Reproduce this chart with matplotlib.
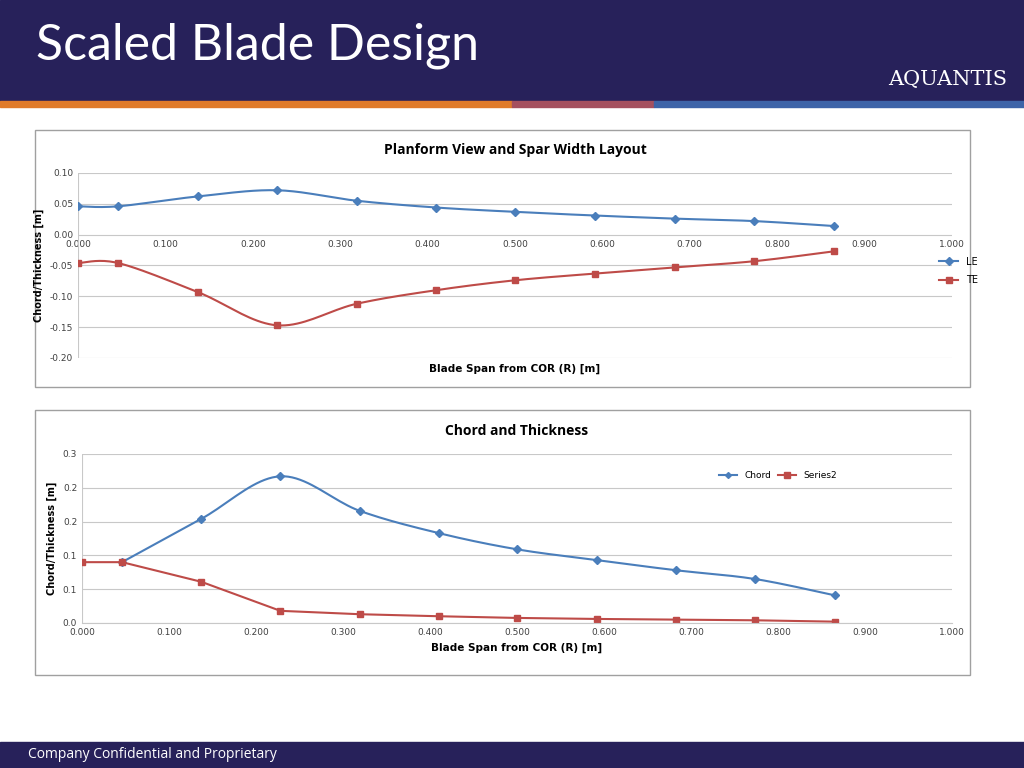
import numpy as np
import matplotlib
matplotlib.use("Agg")
import matplotlib.pyplot as plt
from matplotlib.patches import Rectangle

span = [0.000, 0.046, 0.137, 0.228, 0.319, 0.410, 0.500, 0.592, 0.683, 0.774, 0.865]
le = [0.046, 0.046, 0.062, 0.072, 0.055, 0.044, 0.037, 0.031, 0.026, 0.022, 0.014]
te = [-0.046, -0.046, -0.093, -0.147, -0.112, -0.090, -0.074, -0.063, -0.053, -0.043, -0.027]
chord_span = span[1:]
chord = [0.090, 0.154, 0.217, 0.166, 0.133, 0.109, 0.093, 0.078, 0.065, 0.041]
series2 = [0.090, 0.090, 0.061, 0.018, 0.013, 0.010, 0.0075, 0.006, 0.005, 0.004, 0.002]
x_labels = ["0.000", "0.100", "0.200", "0.300", "0.400", "0.500", "0.600", "0.700", "0.800", "0.900", "1.000"]
top_y_labels = ["-0.20", "-0.15", "-0.10", "-0.05", "0.00", "0.05", "0.10"]
bot_y_labels = ["0.0", "0.1", "0.1", "0.2", "0.2", "0.3"]

BLUE = "#4a7ebb"
RED = "#be4b48"
NAVY = "#27215a"

def smooth(x, y, n=20):
    x = np.asarray(x, float); y = np.asarray(y, float)
    P = np.column_stack([x, y])
    P = np.vstack([P[0], P, P[-1]])
    out = []
    for i in range(1, len(P) - 2):
        p0, p1, p2, p3 = P[i-1], P[i], P[i+1], P[i+2]
        for t in np.linspace(0, 1, n, endpoint=False):
            t2, t3 = t*t, t*t*t
            pt = 0.5*((2*p1) + (-p0+p2)*t + (2*p0-5*p1+4*p2-p3)*t2 + (-p0+3*p1-3*p2+p3)*t3)
            out.append(pt)
    out.append(P[-2])
    out = np.array(out)
    return out[:, 0], out[:, 1]

fig = plt.figure(figsize=(10.24, 7.68), dpi=100)
W, H = 1024, 768
def fr(x0, y0, x1, y1):
    return [x0/W, 1-y1/H, (x1-x0)/W, (y1-y0)/H]

bg = fig.add_axes([0, 0, 1, 1]); bg.set_xlim(0, W); bg.set_ylim(H, 0); bg.axis("off")
bg.add_patch(Rectangle((0, 0), W, 101, color=NAVY))
bg.add_patch(Rectangle((0, 101), 512, 6, color="#e07b2a"))
bg.add_patch(Rectangle((512, 101), 142, 6, color="#a5505f"))
bg.add_patch(Rectangle((654, 101), 370, 6, color="#3d64a8"))
bg.add_patch(Rectangle((0, 742), W, 26, color=NAVY))
bg.text(36, 46, "Scaled Blade Design", color="white", fontsize=36, va="center", family="Lato")
bg.text(948, 80, "AQUANTIS", color="white", fontsize=15, ha="center", va="center", family="DejaVu Serif")
bg.text(28, 755, "Company Confidential and Proprietary", color="white", fontsize=10, va="center", family="Open Sans")
for (x0, y0, x1, y1) in [(35, 130, 970, 387), (35, 410, 970, 675)]:
    bg.add_patch(Rectangle((x0, y0), x1-x0, y1-y0, fill=False, ec="#a0a0a0", lw=1))

tick_kw = dict(labelsize=6.5, colors="#404040", length=0)

# Top chart
ax = fig.add_axes(fr(78, 173, 952, 358))
ax.set_xlim(0, 1); ax.set_ylim(-0.20, 0.10)
ax.set_yticks(np.linspace(-0.20, 0.10, 7)); ax.set_yticklabels(top_y_labels)
ax.set_xticks(np.linspace(0, 1, 11)); ax.set_xticklabels(x_labels)
ax.spines["bottom"].set_position(("data", 0))
for s in ax.spines.values(): s.set_visible(False)
ax.grid(axis="y", color="#c8c8c8", lw=0.8); ax.set_axisbelow(True)
ax.tick_params(**tick_kw)
ax.axvline(0, color="#c8c8c8", lw=0.8)
sx, sy = smooth(span, le); ax.plot(sx, sy, color=BLUE, lw=1.5)
ax.plot(span, le, "D", color=BLUE, ms=4, ls="none")
sx, sy = smooth(span, te); ax.plot(sx, sy, color=RED, lw=1.5)
ax.plot(span, te, "s", color=RED, ms=5, ls="none")
h1 = ax.plot([], [], color=BLUE, marker="D", ms=4, label="LE")[0]
h2 = ax.plot([], [], color=RED, marker="s", ms=5, label="TE")[0]
ax.legend(handles=[h1, h2], loc="center left", bbox_to_anchor=(0.975, 0.47), frameon=False, fontsize=7, handlelength=2, labelspacing=0.9)
ax.set_title("Planform View and Spar Width Layout", fontsize=10, fontweight="bold", pad=14, family="Open Sans")
ax.text(0.5, -0.06, "Blade Span from COR (R) [m]", transform=ax.transAxes, ha="center", va="center", fontsize=7.5, fontweight="bold")
ax.set_ylabel("Chord/Thickness [m]", fontsize=7, fontweight="bold")

# Bottom chart
ax = fig.add_axes(fr(82, 454, 952, 623))
ax.set_xlim(0, 1); ax.set_ylim(0, 0.25)
ax.set_yticks(np.linspace(0, 0.25, 6)); ax.set_yticklabels(bot_y_labels)
ax.set_xticks(np.linspace(0, 1, 11)); ax.set_xticklabels(x_labels)
for s in ax.spines.values(): s.set_visible(False)
ax.spines["bottom"].set_visible(True); ax.spines["bottom"].set_color("#c8c8c8")
ax.grid(axis="y", color="#c8c8c8", lw=0.8); ax.set_axisbelow(True)
ax.tick_params(**tick_kw)
ax.axvline(0, color="#c8c8c8", lw=0.8)
sx, sy = smooth(chord_span, chord); ax.plot(sx, sy, color=BLUE, lw=1.5)
ax.plot(chord_span, chord, "D", color=BLUE, ms=4)
ax.plot(span, series2, color=RED, lw=1.5)
ax.plot(span, series2, "s", color=RED, ms=5)
h1 = ax.plot([], [], color=BLUE, marker="D", ms=3, label="Chord")[0]
h2 = ax.plot([], [], color=RED, marker="s", ms=4, label="Series2")[0]
ax.legend(handles=[h1, h2], loc="center", bbox_to_anchor=(0.8, 0.87), ncol=2, frameon=False, fontsize=6.5, handlelength=2, columnspacing=0.8)
ax.set_title("Chord and Thickness", fontsize=10, fontweight="bold", pad=14, family="Open Sans")
ax.set_xlabel("Blade Span from COR (R) [m]", fontsize=7.5, fontweight="bold", labelpad=4)
ax.set_ylabel("Chord/Thickness [m]", fontsize=7, fontweight="bold")

fig.savefig("out.png", dpi=100)
